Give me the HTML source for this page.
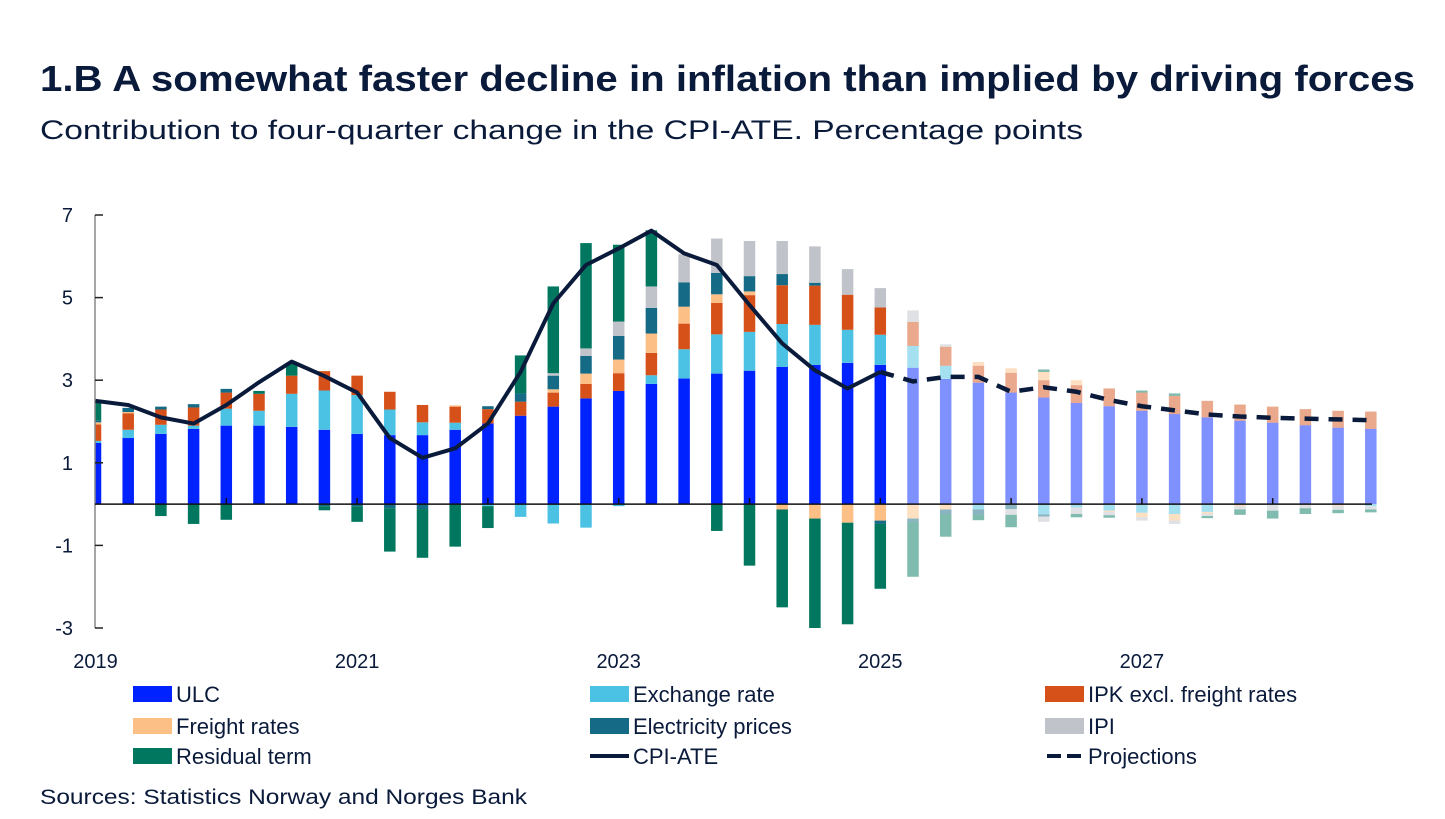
<!DOCTYPE html>
<html><head><meta charset="utf-8"><style>
html,body{margin:0;padding:0;background:#fff;}
svg{display:block;font-family:"Liberation Sans",sans-serif;}
</style></head><body>
<svg id="chart" width="1445" height="819" viewBox="0 0 1445 819" xmlns="http://www.w3.org/2000/svg">
<text x="40" y="91" font-size="36" font-weight="bold" fill="#0a1a3a" textLength="1375" lengthAdjust="spacingAndGlyphs">1.B A somewhat faster decline in inflation than implied by driving forces</text>
<text x="40" y="139" font-size="27" fill="#0a1a3a" textLength="1043" lengthAdjust="spacingAndGlyphs">Contribution to four-quarter change in the CPI-ATE. Percentage points</text>
<g id="plot"></g>
<g id="legend"></g>
<text x="40" y="804" font-size="21" fill="#0a1a3a" textLength="487" lengthAdjust="spacingAndGlyphs">Sources: Statistics Norway and  Norges Bank</text>
</svg>
<script>
const quarters = ["2019Q1","2019Q2","2019Q3","2019Q4","2020Q1","2020Q2","2020Q3","2020Q4","2021Q1","2021Q2","2021Q3","2021Q4","2022Q1","2022Q2","2022Q3","2022Q4","2023Q1","2023Q2","2023Q3","2023Q4","2024Q1","2024Q2","2024Q3","2024Q4","2025Q1","2025Q2","2025Q3","2025Q4","2026Q1","2026Q2","2026Q3","2026Q4","2027Q1","2027Q2","2027Q3","2027Q4","2028Q1","2028Q2","2028Q3","2028Q4"];
const firstProjection = 25;
const ulc = [1.48,1.6,1.7,1.82,1.9,1.9,1.87,1.8,1.7,1.67,1.67,1.8,1.95,2.14,2.36,2.56,2.74,2.91,3.04,3.16,3.23,3.32,3.37,3.42,3.37,3.3,3.03,2.94,2.7,2.58,2.45,2.37,2.26,2.18,2.1,2.02,1.97,1.91,1.85,1.82];
const exchangeRate = [0.05,0.2,0.22,0.08,0.41,0.36,0.8,0.95,0.94,0.62,0.31,0.17,-0.05,-0.31,-0.47,-0.57,-0.05,0.21,0.71,0.95,0.94,1.04,0.97,0.8,0.73,0.53,0.32,-0.13,0,-0.25,-0.08,-0.16,-0.21,-0.24,-0.19,0,0,0,0,-0.05];
const ipkExFreight = [0.4,0.4,0.37,0.44,0.39,0.41,0.44,0.47,0.47,0.43,0.42,0.39,0.35,0.34,0.34,0.35,0.43,0.54,0.62,0.76,0.89,0.94,0.95,0.85,0.66,0.58,0.46,0.41,0.48,0.42,0.43,0.43,0.44,0.44,0.4,0.39,0.39,0.39,0.41,0.42];
const freightRates = [0.05,0.03,0,0,0,0,0,0,0,0,0,0.03,0,0,0.08,0.25,0.33,0.47,0.41,0.21,0.09,-0.13,-0.35,-0.45,-0.4,-0.35,-0.13,0.09,0.11,0.2,0.12,-0.03,-0.11,-0.16,-0.04,-0.05,0,0,-0.04,0];
const electricityPrices = [0.05,0.1,0.07,0.08,0.09,0,0,-0.05,-0.05,-0.1,-0.12,0,0.07,0.2,0.33,0.43,0.57,0.62,0.59,0.52,0.37,0.27,0.07,0,-0.08,-0.08,-0.11,-0.12,-0.12,-0.05,0,0,0,0,0,0,0,0,0,0];
const ipi = [0,0,0,0,0,0,0,0,0,0,0,0,0,0,0.06,0.18,0.35,0.52,0.68,0.83,0.85,0.8,0.88,0.62,0.47,0.28,0.06,0,-0.14,-0.13,-0.16,-0.08,-0.08,-0.08,-0.06,-0.08,-0.16,-0.1,-0.1,-0.08];
const residualTerm = [0.45,0,-0.29,-0.48,-0.38,0.07,0.3,-0.1,-0.38,-1.05,-1.18,-1.03,-0.53,0.92,2.1,2.55,1.86,1.36,0,-0.65,-1.49,-2.37,-2.65,-2.46,-1.57,-1.33,-0.55,-0.14,-0.3,0.06,-0.08,-0.06,0.05,0.06,-0.05,-0.13,-0.19,-0.14,-0.08,-0.07];
const cpiAte = [2.5,2.4,2.1,1.95,2.4,2.95,3.45,3.1,2.7,1.6,1.12,1.35,1.95,3.2,4.86,5.79,6.19,6.62,6.07,5.79,4.82,3.89,3.24,2.8,3.2,2.97,3.08,3.08,2.72,2.83,2.72,2.52,2.37,2.27,2.17,2.12,2.09,2.07,2.05,2.03];
const yTicks = [7,5,3,1,-1,-3];
const xLabels = ["2019","2021","2023","2025","2027"];

const seriesList = [
  {name:"ULC", key:"ulc", data:ulc, color:"#0022ff"},
  {name:"Exchange rate", key:"exchange-rate", data:exchangeRate, color:"#4bc1e3"},
  {name:"IPK excl. freight rates", key:"ipk-excl-freight", data:ipkExFreight, color:"#d6511a"},
  {name:"Freight rates", key:"freight-rates", data:freightRates, color:"#fcbf86"},
  {name:"Electricity prices", key:"electricity-prices", data:electricityPrices, color:"#156a85"},
  {name:"IPI", key:"ipi", data:ipi, color:"#c0c3ca"},
  {name:"Residual term", key:"residual-term", data:residualTerm, color:"#00775e"}
];

const NS = "http://www.w3.org/2000/svg";
const plot = document.getElementById("plot");
const legend = document.getElementById("legend");
const X0 = 95.5, STEP = 32.7, BARW = 11.5;
const xScale = i => X0 + i * STEP;
const Y_TOP = 215, Y_BOT = 628, V_TOP = 7, V_BOT = -3;
const yScale = v => Y_TOP + (V_TOP - v) * (Y_BOT - Y_TOP) / (V_TOP - V_BOT);
function mk(tag, attrs, parent) {
  const e = document.createElementNS(NS, tag);
  for (const k in attrs) e.setAttribute(k, attrs[k]);
  parent.appendChild(e);
  return e;
}
const clip = mk("clipPath", {id:"plotclip"}, plot);
mk("rect", {x:95, y:200, width:1290, height:440}, clip);
const barsG = mk("g", {"clip-path":"url(#plotclip)"}, plot);



// y axis
const yAxis = mk("line", {x1:95, x2:95, y1:Y_TOP, y2:Y_BOT, stroke:"#888", "stroke-width":1.5}, plot);


yTicks.forEach(t => {
  const y = yScale(t);
  const tk = mk("line", {x1:95, x2:103, y1:y, y2:y, stroke:"#222", "stroke-width":1.5}, plot);
  
  
  const lb = mk("text", {x:73, y:y+7, "font-size":20, "text-anchor":"end", fill:"#0a1a3a"}, plot);
  lb.textContent = t;
  
  
});

// bars
quarters.forEach((q, i) => {
  let pos = 0, neg = 0;
  const proj = i >= firstProjection;
  seriesList.forEach(s => {
    const v = s.data[i];
    if (!v) return;
    let y0, y1;
    if (v > 0) { y0 = pos; y1 = pos + v; pos = y1; }
    else { y0 = neg; y1 = neg + v; neg = y1; }
    const top = yScale(Math.max(y0, y1)), bot = yScale(Math.min(y0, y1));
    const r = mk("rect", {x:xScale(i) - BARW/2, y:top, width:BARW, height:Math.max(0.5, bot - top), fill:s.color, "fill-opacity":proj ? 0.5 : 1}, barsG);
    
    
  });
});

// zero line
const zero = mk("line", {x1:95, x2:1372, y1:yScale(0), y2:yScale(0), stroke:"#111", "stroke-width":1.5}, plot);


// x ticks and labels
quarters.forEach((q, i) => {
  if (!q.endsWith("Q1")) return;
  const x = xScale(i);
  if (i > 0) {
    const tk = mk("line", {x1:x, x2:x, y1:yScale(0), y2:yScale(0)-6, stroke:"#111", "stroke-width":1.5}, plot);
    
    
  }
  const yr = q.slice(0,4);
  if (xLabels.includes(yr)) {
    const lb = mk("text", {x:x, y:668, "font-size":20, "text-anchor":"middle", fill:"#0a1a3a"}, plot);
    lb.textContent = yr;
    
    
  }
});

// CPI line (solid to 2025Q1, dashed projection)
const lastHist = firstProjection - 1;
const histPts = cpiAte.slice(0, lastHist + 1).map((v, i) => xScale(i) + "," + yScale(v)).join(" ");
const solid = mk("polyline", {points:histPts, fill:"none", stroke:"#0a1a3a", "stroke-width":4, "stroke-linejoin":"round"}, plot);


const projPts = cpiAte.slice(lastHist).map((v, k) => xScale(lastHist + k) + "," + yScale(v)).join(" ");
const dashed = mk("polyline", {points:projPts, fill:"none", stroke:"#0a1a3a", "stroke-width":4.5, "stroke-dasharray":"14 10"}, plot);



// legend
const legItems = [
  {label:"ULC", type:"box", color:"#0022ff", col:0, row:0},
  {label:"Exchange rate", type:"box", color:"#4bc1e3", col:1, row:0},
  {label:"IPK excl. freight rates", type:"box", color:"#d6511a", col:2, row:0},
  {label:"Freight rates", type:"box", color:"#fcbf86", col:0, row:1},
  {label:"Electricity prices", type:"box", color:"#156a85", col:1, row:1},
  {label:"IPI", type:"box", color:"#c0c3ca", col:2, row:1},
  {label:"Residual term", type:"box", color:"#00775e", col:0, row:2},
  {label:"CPI-ATE", type:"line", color:"#0a1a3a", col:1, row:2},
  {label:"Projections", type:"dash", color:"#0a1a3a", col:2, row:2}
];
const colX = [133, 590, 1045], rowY = [694, 726, 756];
legItems.forEach(it => {
  const g = mk("g", {}, legend);
  
  
  const x = colX[it.col], y = rowY[it.row];
  if (it.type === "box") mk("rect", {x:x, y:y-8, width:39, height:16, fill:it.color}, g);
  else if (it.type === "line") mk("line", {x1:x, x2:x+39, y1:y, y2:y, stroke:it.color, "stroke-width":4}, g);
  else mk("line", {x1:x+2, x2:x+39, y1:y, y2:y, stroke:it.color, "stroke-width":4, "stroke-dasharray":"14 6"}, g);
  const t = mk("text", {x:x+43, y:y+8, "font-size":22, fill:"#0a1a3a"}, g);
  t.textContent = it.label;
});
</script>
</body></html>
